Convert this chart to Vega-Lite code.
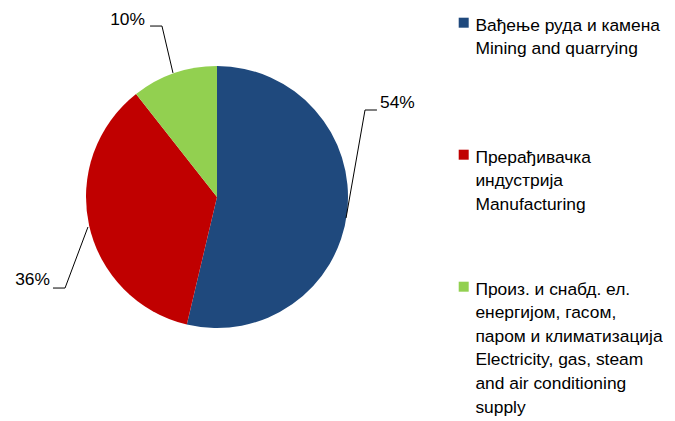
{
  "$schema": "https://vega.github.io/schema/vega-lite/v6.json",
  "width": 434,
  "height": 394,
  "padding": 0,
  "background": "white",
  "config": {"view": {"stroke": null}, "font": "Liberation Sans"},
  "layer": [
    {
      "data": {"values": [
        {"idx": 1, "cat": "Вађење руда и камена|Mining and quarrying| ", "value": 53.7},
        {"idx": 2, "cat": "Прерађивачка|индустрија|Manufacturing", "value": 35.7},
        {"idx": 3, "cat": "Произ. и снабд. ел.|енергијом, гасом,|паром и климатизација|Electricity, gas, steam|and air conditioning|supply", "value": 10.6}
      ]},
      "mark": {"type": "arc", "outerRadius": 131},
      "encoding": {
        "theta": {"field": "value", "type": "quantitative", "stack": true},
        "order": {"field": "idx"},
        "color": {
          "field": "cat", "type": "nominal",
          "scale": {
            "domain": ["Вађење руда и камена|Mining and quarrying| ", "Прерађивачка|индустрија|Manufacturing", "Произ. и снабд. ел.|енергијом, гасом,|паром и климатизација|Electricity, gas, steam|and air conditioning|supply"],
            "range": ["#1F497D", "#C00000", "#92D050"]
          },
          "legend": {
            "orient": "none", "legendX": 455, "legendY": 14, "title": null, "padding": 0,
            "symbolType": "square", "symbolSize": 100, "symbolStrokeWidth": 0,
            "labelExpr": "split(datum.label, '|')",
            "labelFont": "Liberation Sans", "labelFontSize": 17.4, "labelColor": "#000000",
            "labelLimit": 400, "labelOffset": 3, "labelBaseline": "top", "rowPadding": 64,
            "encode": {"labels": {"update": {"lineHeight": {"value": 23.6}, "dy": {"value": -6}}}}
          }
        }
      }
    },
    {
      "data": {"values": [
        {"g": "a", "o": 1, "x": 0.985, "y": -0.160},
        {"g": "a", "o": 2, "x": 1.130, "y": 0.664},
        {"g": "a", "o": 3, "x": 1.221, "y": 0.664},
        {"g": "b", "o": 1, "x": -0.985, "y": -0.229},
        {"g": "b", "o": 2, "x": -1.160, "y": -0.695},
        {"g": "b", "o": 3, "x": -1.252, "y": -0.695},
        {"g": "c", "o": 1, "x": -0.336, "y": 0.947},
        {"g": "c", "o": 2, "x": -0.420, "y": 1.305},
        {"g": "c", "o": 3, "x": -0.511, "y": 1.305}
      ]},
      "mark": {"type": "line", "color": "#000000", "strokeWidth": 1},
      "encoding": {
        "x": {"field": "x", "type": "quantitative", "scale": {"domain": [-1.6565, 1.6565], "nice": false, "zero": false}, "axis": null},
        "y": {"field": "y", "type": "quantitative", "scale": {"domain": [-1.5038, 1.5038], "nice": false, "zero": false}, "axis": null},
        "detail": {"field": "g"},
        "order": {"field": "o"}
      }
    },
    {
      "data": {"values": [
        {"t": "54%", "x": 1.244, "y": 0.718}
      ]},
      "mark": {"type": "text", "align": "left", "baseline": "middle", "fontSize": 17.4, "font": "Liberation Sans", "color": "#000000"},
      "encoding": {
        "x": {"field": "x", "type": "quantitative"},
        "y": {"field": "y", "type": "quantitative"},
        "text": {"field": "t"}
      }
    },
    {
      "data": {"values": [
        {"t": "36%", "x": -1.275, "y": -0.634},
        {"t": "10%", "x": -0.550, "y": 1.351}
      ]},
      "mark": {"type": "text", "align": "right", "baseline": "middle", "fontSize": 17.4, "font": "Liberation Sans", "color": "#000000"},
      "encoding": {
        "x": {"field": "x", "type": "quantitative"},
        "y": {"field": "y", "type": "quantitative"},
        "text": {"field": "t"}
      }
    }
  ]
}
